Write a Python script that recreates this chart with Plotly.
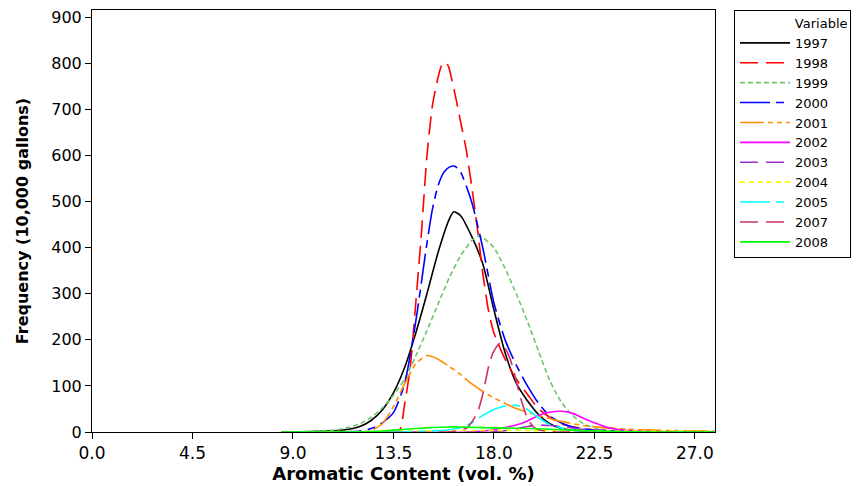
import plotly.graph_objects as go

# ---- data ----
years = ["1997", "1998", "1999", "2000", "2001", "2002", "2003", "2004", "2005", "2007", "2008"]

x_1997 = [8.5, 10.5, 11.5, 12.0, 12.5, 13.0, 13.5, 14.0, 14.5, 15.0, 15.5, 16.0, 16.2, 16.5, 17.0, 17.5, 18.0, 18.5, 19.0, 19.5, 20.0, 20.5, 21.0, 21.5, 22.5, 24.0, 27.9]
y_1997 = [0, 2, 6, 12, 25, 48, 85, 140, 215, 300, 390, 462, 478, 470, 425, 365, 265, 172, 106, 68, 38, 18, 8, 4, 1, 0, 0]

x_1998 = [8.5, 13.0, 13.75, 14.0, 14.25, 14.5, 14.75, 15.0, 15.25, 15.5, 15.65, 15.8, 15.95, 16.25, 16.5, 16.75, 17.0, 17.25, 17.5, 17.75, 18.0, 18.5, 19.0, 19.5, 20.0, 20.5, 21.0, 22.0, 23.0, 24.0, 27.9]
y_1998 = [0, 0, 2, 60, 140, 280, 430, 600, 710, 770, 795, 803, 795, 735, 675, 615, 535, 445, 345, 265, 215, 158, 115, 82, 50, 32, 18, 7, 3, 1, 1]

x_1999 = [8.5, 9.5, 10.5, 11.0, 11.5, 12.0, 12.5, 13.0, 13.5, 14.0, 14.5, 15.0, 15.5, 16.0, 16.5, 17.0, 17.25, 17.5, 18.0, 18.5, 19.0, 19.5, 20.0, 20.5, 21.0, 21.5, 22.0, 22.5, 23.0, 24.0, 27.9]
y_1999 = [0, 0, 3, 5, 10, 18, 32, 52, 80, 115, 165, 220, 278, 335, 382, 415, 425, 422, 400, 355, 300, 240, 175, 112, 66, 37, 18, 9, 4, 1, 0]

x_2000 = [8.5, 12.0, 12.6, 13.0, 13.5, 14.0, 14.5, 15.0, 15.25, 15.5, 15.75, 16.0, 16.25, 16.5, 17.0, 17.5, 18.0, 18.5, 19.0, 19.5, 20.0, 20.5, 21.0, 21.5, 22.5, 24.0, 27.9]
y_2000 = [0, 2, 9, 20, 42, 105, 240, 410, 485, 535, 563, 575, 577, 565, 500, 400, 280, 200, 145, 100, 62, 35, 20, 11, 4, 1, 0]

x_2001 = [8.5, 12.0, 12.5, 13.0, 13.5, 14.0, 14.5, 15.0, 15.5, 16.0, 16.5, 17.0, 17.5, 18.0, 18.5, 19.0, 19.5, 20.0, 21.0, 22.0, 23.0, 24.0, 25.0, 26.0, 27.9]
y_2001 = [0, 0, 3, 18, 55, 105, 148, 166, 158, 142, 125, 105, 88, 74, 62, 51, 43, 36, 23, 14, 9, 6, 4, 3, 2]

x_2002 = [8.5, 17.0, 17.5, 18.0, 18.4, 19.0, 19.5, 20.0, 20.5, 21.0, 21.5, 22.0, 22.5, 23.0, 23.5, 24.0, 25.0, 26.0, 27.9]
y_2002 = [0, 0, 2, 5, 9, 15, 24, 36, 43, 45, 41, 30, 20, 11, 6, 3, 1, 0, 0]

x_2003 = [8.5, 17.5, 18.5, 19.0, 19.5, 20.0, 20.5, 21.0, 21.5, 22.0, 23.0, 24.0, 25.0, 27.9]
y_2003 = [0, 0, 3, 7, 12, 15, 14, 12, 9, 6, 3, 1, 0.5, 0]

x_2004 = [8.5, 10.0, 12.0, 14.0, 16.0, 18.0, 20.0, 22.0, 24.0, 26.0, 27.9]
y_2004 = [0, 0.5, 1, 2, 3, 3.5, 3, 2.5, 2, 1.5, 1]

x_2005 = [8.5, 13.5, 14.5, 15.5, 16.0, 16.5, 17.0, 17.5, 18.0, 18.5, 19.0, 19.5, 20.0, 20.5, 21.0, 21.5, 22.0, 23.0, 27.9]
y_2005 = [0, 0, 1, 3, 5, 9, 20, 36, 49, 56, 58, 49, 31, 16, 9, 4, 2, 0.5, 0]

x_2007 = [8.5, 16.0, 16.5, 16.8, 17.25, 17.5, 17.8, 18.0, 18.27, 18.5, 18.75, 19.0, 19.25, 19.5, 19.75, 20.0, 20.5, 21.0, 27.9]
y_2007 = [0, 0, 4, 9, 41, 82, 150, 176, 193, 182, 155, 110, 65, 30, 12, 5, 1, 0, 0]

x_2008 = [8.5, 12.0, 13.0, 13.5, 14.0, 15.0, 16.0, 16.5, 17.0, 18.0, 19.0, 20.0, 21.0, 22.0, 23.0, 24.0, 25.0, 27.9]
y_2008 = [0, 0, 2, 4, 6, 9, 11, 11, 10, 9, 8, 7, 5, 3, 1.5, 0.5, 0, 0]

xs = [x_1997, x_1998, x_1999, x_2000, x_2001, x_2002, x_2003, x_2004, x_2005, x_2007, x_2008]
ys = [y_1997, y_1998, y_1999, y_2000, y_2001, y_2002, y_2003, y_2004, y_2005, y_2007, y_2008]

x_ticks = [0.0, 4.5, 9.0, 13.5, 18.0, 22.5, 27.0]
x_tick_labels = ["0.0", "4.5", "9.0", "13.5", "18.0", "22.5", "27.0"]
y_ticks = [0, 100, 200, 300, 400, 500, 600, 700, 800, 900]

# ---- styles ----
colors = ["#000000", "#FF0000", "#6CC66C", "#0000FF", "#FF8C00", "#FF00FF",
          "#9933CC", "#FFFF00", "#00FFFF", "#CC3366", "#00FF00"]
dashes = ["solid", "18px,8px", "5px,3px", "30px,6px,8px,6px", "24px,4px,5px,4px,5px,4px",
          "solid", "18px,8px", "5px,4px", "30px,6px,8px,6px", "18px,8px", "solid"]

fig = go.Figure()
for name, x, y, c, d in zip(years, xs, ys, colors, dashes):
    fig.add_trace(go.Scatter(x=x, y=y, mode="lines", name=name,
                             line=dict(color=c, dash=d, width=1.6, shape="spline", smoothing=0.6)))

fig.update_layout(
    width=862, height=486,
    margin=dict(l=92, r=147, t=8, b=54),
    paper_bgcolor="white", plot_bgcolor="white",
    font=dict(family="DejaVu Sans", color="black"),
    showlegend=True,
    legend=dict(
        x=1.0305, xanchor="left", y=1.0, yanchor="top",
        bordercolor="black", borderwidth=1,
        font=dict(family="DejaVu Sans", size=13, color="black"),
        title=dict(text="\u00a0" * 14 + "Variable", side="top", font=dict(size=13)),
        itemwidth=50,
        tracegroupgap=0,
    ),
    xaxis=dict(
        range=[0, 27.9], tickvals=x_ticks, ticktext=x_tick_labels,
        showgrid=False, zeroline=False,
        showline=True, linecolor="black", linewidth=1, mirror=True,
        ticks="outside", ticklen=6, tickcolor="black",
        tickfont=dict(family="DejaVu Sans", size=17),
        title=dict(text="<b>Aromatic Content (vol. %)</b>",
                   font=dict(family="DejaVu Sans", size=18), standoff=2),
    ),
    yaxis=dict(
        range=[0, 916], tickvals=y_ticks,
        showgrid=False, zeroline=False,
        showline=True, linecolor="black", linewidth=1, mirror=True,
        ticks="outside", ticklen=6, tickcolor="black",
        tickfont=dict(family="DejaVu Sans", size=16),
        title=dict(text="<b>Frequency (10,000 gallons)</b>",
                   font=dict(family="DejaVu Sans", size=16), standoff=18),
    ),
)

fig.write_html("out.html")
